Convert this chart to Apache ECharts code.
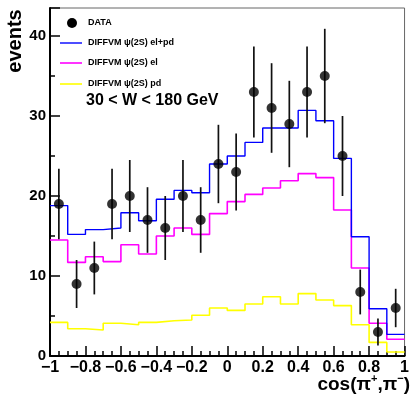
<!DOCTYPE html>
<html>
<head>
<meta charset="utf-8">
<script src="https://cdn.jsdelivr.net/npm/echarts@6/dist/echarts.min.js"></script>
<style>
html,body{margin:0;padding:0;background:#fff;}
#c{width:412px;height:401px;}
</style>
</head>
<body>
<div id="c"></div>
<script>
const binCenters = [-0.95,-0.85,-0.75,-0.65,-0.55,-0.45,-0.35,-0.25,-0.15,-0.05,0.05,0.15,0.25,0.35,0.45,0.55,0.65,0.75,0.85,0.95];
const dataEvents = [19,9,11,19,20,17,16,20,17,24,23,33,31,29,33,35,25,8,3,6];
const dataErrors = [4.4,3.0,3.3,4.4,4.5,4.1,4.0,4.5,4.1,4.9,4.8,5.7,5.6,5.4,5.7,5.9,5.0,2.8,1.7,2.4];
const elPd = [18.8,15.2,15.8,16.0,17.9,16.9,19.6,20.7,20.4,24.0,25.0,26.7,28.5,28.5,30.7,29.4,24.7,14.9,5.9,2.7];
const el   = [14.5,11.7,12.4,11.8,13.9,12.75,15.0,16.0,15.2,17.8,19.3,20.2,21.0,21.9,22.8,22.3,18.25,11.0,4.1,2.1];
const pd   = [4.2,3.4,3.25,4.1,3.9,4.2,4.4,4.5,5.1,6.0,5.7,6.5,7.4,6.5,7.8,7.0,6.3,3.9,1.7,0.5];
const binWidth = 0.1;

const FONT = "'Liberation Sans', Arial, Helvetica, sans-serif";

function histData(vals){
  const d = binCenters.map((c,i)=>[c - binWidth/2, vals[i]]);
  d.push([binCenters[binCenters.length-1] + binWidth/2, vals[vals.length-1]]);
  return d;
}
function fmtX(v){
  const r = Math.round(v*10)/10;
  return String(r).replace('-', '\u2212');
}

const chart = echarts.init(document.getElementById('c'), null, {renderer:'canvas'});
chart.setOption({
  animation:false,
  backgroundColor:'#fff',
  grid:{left:50,right:2,top:8,bottom:45,show:true,borderColor:'#666',borderWidth:1,backgroundColor:'transparent'},
  xAxis:{
    type:'value',min:-1,max:1,interval:0.2,
    axisLine:{onZero:false,lineStyle:{color:'#000',width:2}},
    axisTick:{inside:true,length:10,lineStyle:{color:'#000',width:1.5}},
    minorTick:{show:true,splitNumber:4,length:5,lineStyle:{color:'#000',width:1.5}},
    splitLine:{show:false},
    axisLabel:{formatter:fmtX,color:'#000',fontWeight:'bold',fontSize:16,fontFamily:FONT,margin:4},
  },
  yAxis:[{
    type:'value',min:0,max:43.5,interval:10,
    axisLine:{show:true,onZero:false,lineStyle:{color:'#000',width:2}},
    axisTick:{show:true,inside:true,length:10,lineStyle:{color:'#000',width:1.5}},
    splitLine:{show:false},
    axisLabel:{formatter:v=>(v%10===0?String(v):''),color:'#000',fontWeight:'bold',fontSize:15,fontFamily:FONT,margin:4},
  },{
    type:'value',min:0,max:43.5,interval:5,position:'left',
    axisLine:{show:false,onZero:false},
    axisTick:{show:true,inside:true,length:5,lineStyle:{color:'#000',width:1.5}},
    splitLine:{show:false},
    axisLabel:{show:false}
  }],
  series:[
    {type:'line',step:'end',data:histData(pd),showSymbol:false,lineStyle:{color:'#ffff00',width:1.6},z:2},
    {type:'line',step:'end',data:histData(el),showSymbol:false,lineStyle:{color:'#ff00ff',width:1.6},z:3},
    {type:'line',step:'end',data:histData(elPd),showSymbol:false,lineStyle:{color:'#0000ff',width:1.4},z:4},
    {type:'custom',z:5,
      data:binCenters.map((c,i)=>[c,dataEvents[i],dataErrors[i]]),
      renderItem:function(params,api){
        const x=api.value(0), y=api.value(1), e=api.value(2);
        const t=api.coord([x,y+e]), b=api.coord([x,Math.max(0,y-e)]);
        return {type:'line',shape:{x1:t[0],y1:t[1],x2:b[0],y2:b[1]},style:{stroke:'#111',lineWidth:1.7}};
      }
    },
    {type:'scatter',z:6,data:binCenters.map((c,i)=>[c,dataEvents[i]]),symbol:'circle',symbolSize:10,itemStyle:{color:'#000'}}
  ],
  graphic:[
    {type:'text',rotation:Math.PI/2,x:15,y:41,style:{text:'events',font:"bold 20px "+FONT,fill:'#000',align:'center',verticalAlign:'middle'}},
    {type:'text',right:2,top:373,style:{
      text:'{a|cos(\u03c0}{s|+}{a|,\u03c0}{s|\u2212}{a|)}',
      rich:{a:{font:"bold 19px "+FONT,fill:'#000',lineHeight:24},s:{font:"bold 11px "+FONT,fill:'#000',verticalAlign:'top',lineHeight:12}},
    }},
    {type:'circle',shape:{cx:72,cy:23,r:5},style:{fill:'#000'}},
    {type:'text',x:88,y:23,style:{text:'DATA',font:"bold 9px "+FONT,fill:'#000',verticalAlign:'middle'}},
    {type:'line',shape:{x1:60,y1:43,x2:82,y2:43},style:{stroke:'#0000ff',lineWidth:1.4}},
    {type:'text',x:88,y:43,style:{text:'DIFFVM \u03c8(2S) el+pd',font:"bold 9px "+FONT,fill:'#000',verticalAlign:'middle'}},
    {type:'line',shape:{x1:60,y1:63,x2:82,y2:63},style:{stroke:'#ff00ff',lineWidth:1.6}},
    {type:'text',x:88,y:63,style:{text:'DIFFVM \u03c8(2S) el',font:"bold 9px "+FONT,fill:'#000',verticalAlign:'middle'}},
    {type:'line',shape:{x1:60,y1:84,x2:82,y2:84},style:{stroke:'#ffff00',lineWidth:1.6}},
    {type:'text',x:88,y:84,style:{text:'DIFFVM \u03c8(2S) pd',font:"bold 9px "+FONT,fill:'#000',verticalAlign:'middle'}},
    {type:'text',x:86,y:101,style:{text:'30 < W < 180 GeV',font:"bold 16px "+FONT,fill:'#000',verticalAlign:'middle'}}
  ]
});
</script>
</body>
</html>
